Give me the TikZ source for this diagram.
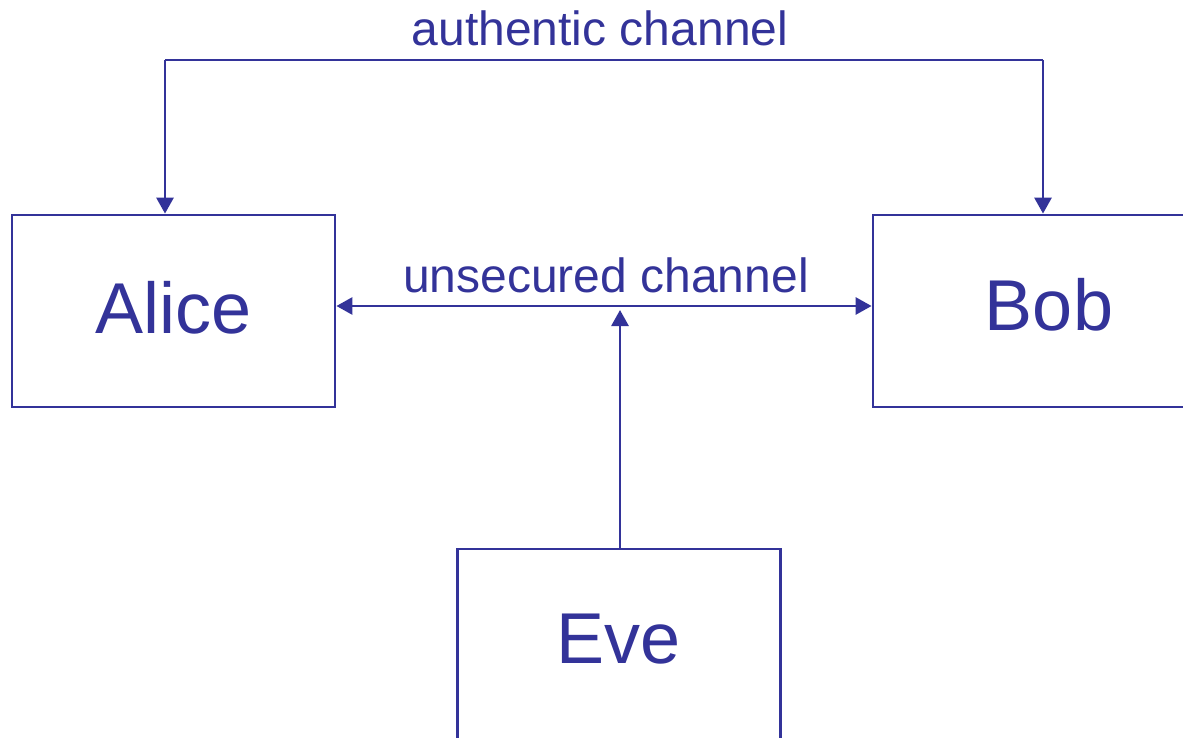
\documentclass[tikz,border=0pt]{standalone}
\usepackage{fontspec}
\setmainfont{Liberation Sans}
\usetikzlibrary{arrows.meta}
\definecolor{ink}{HTML}{333399}
\tikzset{
  party/.style={draw=ink, line width=2.8pt, text=ink, minimum width=323pt,
    minimum height=192pt, inner sep=0pt, font=\fontsize{72}{80}\selectfont},
  chlabel/.style={text=ink, inner sep=0pt, font=\fontsize{48}{56}\selectfont},
  link/.style={draw=ink, line width=2.8pt},
  tip/.tip={Triangle[width=17pt,length=16pt]}
}
\begin{document}
\begin{tikzpicture}[x=1pt,y=-1pt]
\useasboundingbox (0,0) rectangle (1183,738);
\clip (0,0) rectangle (1183,738);

% the three parties (text depth lifts the names a little in their boxes)
\node[party, text depth=7pt] (alice) at (173.5,311) {Alice};
\node[party, minimum width=352pt, text depth=13pt] (bob) at (1049,311) {Bob};
\node[party, text depth=13pt] (eve) at (619,645) {Eve};

% channel labels
\node[chlabel] (authlbl) at (600,28) {authentic channel};
\node[chlabel] (unseclbl) at (606,275) {unsecured channel};

% authentic channel: bracket over the top
\coordinate (tl) at (165,60);
\coordinate (tr) at (1043,60);
\draw[link] (tl) -- (tr);
\draw[link,-tip] (tl) -- (tl |- alice.north);
\draw[link,-tip] (tr) -- (tr |- bob.north);

% unsecured channel between Alice and Bob
\coordinate (ch) at (620,306);
\draw[link,tip-tip] (alice.east |- ch) -- (bob.west |- ch);

% Eve taps the unsecured channel
\coordinate (evetip) at (620,310);
\draw[link,-tip] (evetip |- eve.north) -- (evetip);
\end{tikzpicture}
\end{document}
